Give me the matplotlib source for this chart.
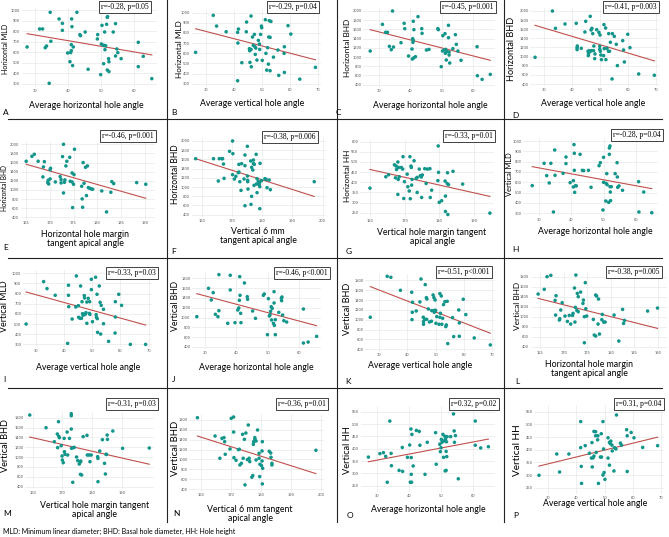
import matplotlib
matplotlib.use('Agg')
import matplotlib.pyplot as plt
from matplotlib.lines import Line2D
from matplotlib import font_manager
import numpy as np

# ---------------- data ----------------
A_x = [27.6,34.6,37.3,38.3,38.3,31.4,32.3,33.1,33.5,34.8,34.3,42.7,41.1,41.2,43.6,43.8,45.2,41.0,41.6,41.0,40.8,39.9,40.6,41.4,46.1,50.3,49.0,48.9,51.1,51.7,51.9,52.0,54.4,53.7,50.1,50.8,51.4,51.2,54.8,55.1,54.4,56.1,52.3,52.4,50.8,51.9,52.4,49.9,61.3,61.3,62.8,65.4]
A_y = [649,978,915,873,807,820,820,642,658,703,304,978,915,842,766,756,791,671,649,614,595,592,509,472,437,854,766,725,791,864,930,937,870,791,677,665,661,623,630,595,563,538,538,509,490,430,415,386,693,462,560,348]
B_x = [26.4,32.7,33.9,37.3,41.4,41.7,41.4,41.5,42.9,44.5,44.6,46.2,45.6,45.7,46.2,45.8,46.3,46.7,47.4,47.0,47.6,47.9,47.7,48.3,48.8,49.2,49.3,49.6,49.9,50.0,50.2,51.3,51.5,51.8,52.1,52.4,52.7,53.3,52.5,53.0,53.0,54.2,55.8,56.1,58.1,58.0,58.1,59.4,60.4,63.6,69.2]
B_y = [609,974,868,812,329,839,806,701,507,812,908,967,645,625,638,510,467,760,786,678,664,651,589,533,727,691,638,786,868,852,530,931,599,434,655,493,921,914,760,757,428,562,632,382,664,599,411,872,789,345,461]
C_x = [27.2,31.1,32.1,32.7,34.3,33.3,33.9,34.6,37.0,38.0,38.2,39.4,40.5,40.7,40.8,40.9,40.9,40.6,41.1,41.6,41.1,42.4,43.6,43.7,45.1,45.9,48.7,48.9,49.8,50.3,51.0,50.2,50.7,51.1,51.2,51.6,52.1,52.1,52.3,52.3,51.4,52.5,53.5,54.3,54.6,55.1,56.1,61.2,61.3,62.8,65.4]
C_y = [1131,1710,1537,1537,2000,1233,1160,1218,1312,1732,1616,1023,1175,1399,1319,1363,1776,957,986,1008,1595,1877,1616,1515,1153,1167,1616,1595,791,1464,1508,1131,1153,1081,1167,1117,1421,1689,1044,1109,936,871,1182,1486,1276,1131,929,1225,595,516,624]
D_x = [26.7,32.9,34.0,37.4,41.4,41.7,41.7,41.8,43.2,44.5,44.8,45.6,45.7,45.8,46.1,46.3,46.4,46.7,47.0,46.9,47.3,47.7,47.6,48.0,48.1,48.7,49.5,49.8,49.9,49.8,50.0,50.2,50.4,51.2,51.3,51.4,51.9,52.0,52.4,52.9,53.0,53.3,53.6,54.2,54.3,55.0,55.7,56.1,58.0,58.3,58.6,59.8,60.6,63.7,69.3]
D_y = [985,2000,1620,1715,1730,1197,1153,1233,1182,1540,1774,1117,1022,1066,1131,1109,1883,1584,1620,1131,1504,1233,1131,956,1058,1591,1533,1226,1474,1160,1117,1036,934,1022,1701,1175,1628,934,1182,1117,1504,1117,1314,511,1504,1445,1270,803,1350,1146,883,1489,1197,620,591]
E_x = [165.1,166.3,166.8,167.6,168.7,168.9,168.6,169.6,169.7,169.8,170.1,170.1,170.2,171.2,172.2,172.4,172.4,172.7,172.9,172.9,173.1,173.2,173.4,173.6,174.2,174.3,174.7,174.7,174.8,175.0,175.1,175.2,176.7,176.8,176.9,177.0,177.2,177.5,177.7,177.9,178.1,178.4,178.7,179.0,180.9,181.9,182.8,183.0,183.4,188.2,190.1]
E_y = [1628,1737,1781,1628,1504,1620,1285,1161,1212,1131,1241,1445,1474,1175,1292,1226,1153,1730,2000,934,1168,1219,1526,1628,1715,1190,1175,1372,613,1124,1336,1891,1080,803,620,1599,1146,1496,876,1526,1051,1036,1022,1015,978,518,949,1182,1139,1161,1124]
F_x = [158.0,163.9,165.5,165.8,166.6,166.9,167.2,167.4,169.2,170.2,170.3,170.2,170.8,171.3,172.1,172.3,172.3,172.6,173.0,173.2,174.0,174.3,174.3,174.3,175.1,175.1,175.2,175.2,175.3,176.2,176.3,176.5,176.5,176.9,177.1,177.1,177.3,177.4,178.0,178.1,178.3,178.3,178.7,179.1,179.0,179.2,179.3,179.2,179.8,180.9,181.3,181.6,182.3,182.7,197.2]
F_y = [1616,1616,1131,1616,1616,1616,1500,1189,1776,2000,1725,1269,1175,1233,1312,1327,1493,1117,928,1508,1175,1696,1464,595,1884,1240,1146,1117,957,1566,624,798,1428,1370,1587,1508,1037,1493,1710,1066,1182,878,1124,1095,1044,1008,1515,530,1138,1182,1167,986,1153,943,1117]
G_x = [159.9,164.5,165.3,167.0,167.5,168.0,167.6,168.2,169.0,169.4,169.5,171.5,171.8,171.9,172.7,167.3,168.1,168.4,169.9,168.0,169.7,170.7,170.9,171.3,171.6,172.0,172.1,173.3,173.6,173.6,174.2,174.5,174.8,175.1,174.9,175.8,176.2,176.6,177.3,177.4,177.8,179.7,179.8,179.6,180.0,180.7,181.7,182.3,182.7,182.4,184.0,181.8,181.8,182.5,186.8,194.7]
G_y = [371,427,437,486,480,500,463,473,473,465,526,526,480,473,506,422,414,427,403,340,320,440,378,357,319,386,414,419,424,350,465,432,426,436,325,467,394,465,467,325,361,579,449,408,301,309,406,394,388,447,454,332,256,241,391,248]
H_x = [27.8,31.5,32.3,33.1,33.6,34.8,34.9,34.4,37.4,38.3,38.3,39.6,40.6,40.8,40.6,40.9,40.9,41.0,41.3,41.5,42.7,43.4,43.8,45.3,46.1,48.6,49.0,50.0,50.0,49.8,50.7,50.8,51.0,51.1,51.6,51.8,51.8,52.0,52.0,52.1,52.2,52.4,53.6,54.2,54.3,54.4,54.8,55.9,60.9,61.0,62.5,65.0]
H_y = [568,784,665,594,784,913,668,313,687,845,781,597,616,965,555,881,716,503,568,565,871,716,713,716,552,761,790,842,600,332,419,590,684,577,406,932,871,952,558,506,423,558,684,790,652,552,565,523,606,313,506,306]
I_x = [26.6,32.8,34.0,36.9,41.3,41.6,41.6,41.7,42.9,44.4,44.2,45.1,45.2,45.7,45.9,46.2,46.4,46.6,46.8,47.2,47.3,47.5,47.8,48.1,48.1,48.6,49.0,49.1,49.2,49.7,49.7,50.1,51.2,51.4,51.5,51.7,51.8,51.9,52.5,52.8,53.0,53.2,54.0,54.0,55.8,58.1,58.2,58.2,59.4,60.4,63.5,68.9]
I_y = [500,918,849,783,309,882,783,671,549,974,668,681,566,556,875,556,720,602,586,780,757,595,612,507,717,753,605,720,595,941,839,523,961,592,566,793,553,418,875,714,401,684,645,503,329,411,569,720,793,684,299,299]
J_x = [27.5,31.2,32.7,32.1,33.4,34.2,34.5,34.5,37.3,38.1,38.1,39.6,40.5,40.8,41.0,41.1,41.2,41.4,41.5,42.6,43.5,43.6,45.2,46.1,48.6,48.9,49.9,50.2,50.5,50.7,50.9,51.1,51.2,51.4,51.8,52.0,52.1,52.0,52.4,52.4,53.5,54.3,54.5,54.4,54.7,55.1,56.0,61.3,61.3,62.8,65.5]
J_y = [1018,1596,1508,1358,1066,1018,1875,1140,882,1562,1861,896,1154,1195,1351,1834,1453,1086,896,1705,1426,1372,1134,984,1453,1480,651,1385,1032,1052,1127,1222,950,1188,882,1297,841,1528,957,651,1106,1392,1419,1344,1052,936,909,1174,481,501,617]
K_x = [26.8,32.8,34.1,37.5,41.5,41.6,41.8,41.7,43.1,44.4,44.8,45.6,45.7,45.7,46.1,46.3,46.7,46.9,46.8,47.4,47.8,48.5,48.6,49.1,49.4,49.4,49.5,49.8,49.8,50.0,50.1,50.4,51.2,51.5,51.5,51.7,52.0,52.2,52.5,52.8,53.3,53.6,53.8,54.1,54.3,56.0,56.4,58.2,58.4,58.4,59.8,60.7,63.7,69.4]
K_y = [1050,1881,1861,1597,1557,1002,1354,1151,1178,1361,1827,1050,962,908,1009,1712,1448,1421,1009,1219,955,969,1185,1502,1448,1185,1151,1401,1192,1185,928,1063,908,1530,1050,1131,1482,908,1029,1307,1367,860,894,1374,516,1043,658,1198,935,664,1415,1104,631,489]
L_x = [164.6,165.9,166.5,167.3,168.4,168.2,168.3,169.1,169.2,169.4,169.7,170.3,170.8,171.2,171.5,171.9,172.0,172.3,172.4,172.5,172.6,172.8,172.9,173.1,173.1,173.6,174.2,174.1,174.4,174.6,174.4,174.7,174.9,176.3,176.5,176.8,176.8,177.0,177.3,177.4,177.6,178.1,178.2,178.5,178.8,180.7,181.7,182.5,182.7,182.9,187.8,189.9]
L_y = [1453,1547,1800,1827,1420,1326,1033,933,960,1133,1280,1013,906,1026,853,1026,1066,1573,893,1186,1833,1126,1466,1400,1100,1493,1333,1266,1000,1680,479,1160,1013,946,633,613,1433,1413,853,1353,653,940,1046,893,893,1033,513,1146,866,926,1113,1173]
M_x = [159.0,164.5,167.3,168.3,168.7,168.4,168.8,169.0,169.6,169.9,170.0,170.3,170.6,170.7,170.9,171.6,171.8,172.4,173.0,173.0,173.0,173.1,173.5,173.7,174.0,174.8,175.2,175.7,176.1,176.1,176.5,176.2,177.0,178.3,178.4,179.0,179.3,179.7,181.9,182.0,182.0,182.6,183.5,184.2,184.5,184.7,184.9,185.1,185.2,187.0,190.3,199.3]
M_y = [1854,1597,1313,1469,1719,1192,1421,1394,1232,1023,942,887,1381,1110,1056,1509,1043,1381,1881,1840,1570,1178,489,1192,1198,1002,928,860,901,651,637,921,1415,1442,1043,1043,908,1043,1009,975,502,1124,1354,874,658,1056,1056,1448,1360,1530,1178,1185]
N_x = [158.7,164.6,166.2,166.9,167.6,167.8,168.0,169.6,170.0,170.8,170.8,170.9,171.6,172.4,172.7,172.9,173.4,173.8,174.0,174.4,174.6,174.9,175.4,175.7,176.0,176.2,176.9,177.2,177.4,177.5,177.9,177.9,178.3,178.3,178.8,179.3,179.3,179.5,179.6,180.1,180.3,180.3,180.4,180.5,180.4,182.7,183.2,183.3,183.6,183.6,198.3]
N_y = [1840,1472,1024,1425,1439,1358,1104,1211,1827,1854,1552,1037,984,1198,1205,890,923,1506,1024,1405,489,1532,997,1693,1024,957,643,676,1305,1358,1405,1439,1372,990,1593,1124,1024,656,903,877,1171,970,1358,823,509,1164,1131,1044,923,890,1185]
O_x = [27.4,31.0,32.1,32.8,33.3,34.1,34.5,34.6,37.0,38.0,38.1,39.6,40.3,40.5,40.9,40.7,40.8,40.8,41.0,41.4,42.4,43.3,43.5,45.1,45.8,48.4,48.6,49.7,49.9,50.1,50.2,50.4,50.7,50.9,51.0,51.3,51.4,51.5,51.7,51.7,51.8,51.9,52.0,53.1,54.2,54.3,54.0,54.6,55.5,60.8,60.8,62.5,64.9]
O_y = [366,380,384,369,264,512,381,331,312,405,308,365,415,264,264,480,364,296,458,330,474,470,414,296,426,465,337,418,388,404,438,426,458,365,431,450,310,438,389,312,428,368,449,449,472,426,541,453,278,512,414,403,408]
P_x = [26.7,33.0,34.0,37.3,41.5,41.5,41.7,41.8,43.1,44.6,45.3,45.5,45.6,45.9,46.2,46.2,46.8,46.8,47.0,47.5,47.6,47.8,48.5,48.8,48.9,49.4,49.4,49.6,49.8,50.1,51.2,51.2,51.7,51.7,52.0,52.2,52.6,52.7,53.3,53.5,54.0,54.2,55.6,56.0,57.8,58.0,58.0,59.4,60.4,63.5,68.8]
P_y = [299,383,312,383,511,408,334,267,416,386,367,428,332,368,375,472,471,455,389,439,455,267,371,463,371,511,300,403,310,283,367,447,429,339,424,434,418,395,316,408,403,537,426,418,479,455,314,468,447,409,416]

# fitted trend lines (slope, intercept)
fit_slope = [-5.34, -7.15, -17.4, -18.3, -29.8, -20.9, -3.82, -5.73,
             -7.71, -17.2, -22.2, -23.7, -13.7, -19.1, 2.45, 2.71]
fit_intercept = [922.5, 1030.5, 2068, 2175, 6482, 4918, 1074, 911,
                 1021, 1960, 2267, 5267, 3586, 4503, 280, 263]

stats_text = ["r=-0.28, p=0.05", "r=-0.29, p=0.04", "r=-0.45, p=0.001", "r=-0.41, p=0.003",
              "r=-0.46, p=0.001", "r=-0.38, p=0.006", "r=-0.33, p=0.01", "r=-0.28, p=0.04",
              "r=-0.33, p=0.03", "r=-0.46, p<0.001", "r=-0.51, p<0.001", "r=-0.38, p=0.005",
              "r=-0.31, p=0.03", "r=-0.36, p=0.01", "r=0.32, p=0.02", "r=0.31, p=0.04"]
letters = list("ABCDEFGHIJKLMNOP")
x_labels = ["Average horizontal hole angle", "Average vertical hole angle",
            "Average horizontal hole angle", "Average vertical hole angle",
            "Horizontal hole margin\ntangent apical angle", "Vertical 6 mm\ntangent apical angle",
            "Vertical hole margin tangent\napical angle", "Average horizontal hole angle",
            "Average vertical hole angle", "Average horizontal hole angle",
            "Average vertical hole angle", "Horizontal hole margin\ntangent apical angle",
            "Vertical hole margin tangent\napical angle", "Vertical 6 mm tangent\napical angle",
            "Average horizontal hole angle", "Average vertical hole angle"]
y_labels = ["Horizontal MLD", "Horizontal MLD", "Horizontal BHD", "Horizontal BHD",
            "Horizontal BHD", "Horizontal BHD", "Horizontal HH", "Vertical MLD",
            "Vertical MLD", "Vertical BHD", "Vertical BHD", "Vertical BHD",
            "Vertical BHD", "Vertical BHD", "Vertical HH", "Vertical HH"]
ang_h = [30, 40, 50, 60]
ang_v = [30, 40, 50, 60, 70]
tan_h = [165, 170, 175, 180, 185, 190]
tan_v4 = [160, 170, 180, 190]
tan_v5 = [160, 170, 180, 190, 200]
mld_t = [300, 400, 500, 600, 700, 800, 900, 1000]
bhd_h_t = [400, 600, 800, 1000, 1200, 1400, 1600, 1800, 2000]
bhd_v_t = [400, 600, 800, 1000, 1200, 1400, 1600, 1800]
hh_h_t = [250, 300, 350, 400, 450, 500, 550, 600]
hh_v_t = [250, 300, 350, 400, 450, 500, 550]
footnote = "MLD: Minimum linear diameter; BHD: Basal hole diameter, HH: Hole height"

xs = [A_x, B_x, C_x, D_x, E_x, F_x, G_x, H_x, I_x, J_x, K_x, L_x, M_x, N_x, O_x, P_x]
ys = [A_y, B_y, C_y, D_y, E_y, F_y, G_y, H_y, I_y, J_y, K_y, L_y, M_y, N_y, O_y, P_y]
xticks_all = [ang_h, ang_v, ang_h, ang_v, tan_h, tan_v5, tan_v4, ang_h,
              ang_v, ang_h, ang_v, tan_h, tan_v4, tan_v5, ang_h, ang_v]
yticks_all = [mld_t, mld_t, bhd_h_t, bhd_h_t, bhd_h_t, bhd_h_t, hh_h_t, mld_t,
              mld_t, bhd_v_t, bhd_v_t, bhd_v_t, bhd_v_t, bhd_v_t, hh_v_t, hh_v_t]

# ---------------- layout (pixels) ----------------
W, H = 669, 537
fig = plt.figure(figsize=(W / 100, H / 100), dpi=100)
fig.patch.set_facecolor('white')
renderer = fig.canvas.get_renderer()

# tick -> pixel anchors (x: t1,p1,t2,p2 ; y: v1,q1,v2,q2)
xmap = [(30,35.0,60,134.0),(30,205.7,70,317.7),(30,379.0,60,473.3),(30,544.3,70,656.3),
        (165,25.7,190,145.3),(160,201.7,200,322.7),(160,370.3,190,473.7),(30,539.3,60,635.7),
        (30,35.7,70,148.7),(30,204.7,60,299.3),(30,379.3,70,492.0),(165,540.0,190,658.0),
        (160,32.7,190,121.7),(160,201.3,200,321.0),(30,376.7,60,472.7),(30,548.3,70,661.0)]
ymap = [(1000,10.0,300,83.7),(1000,12.7,300,83.7),(2000,11.0,400,84.7),(2000,11.0,400,84.0),
        (2000,144.3,400,217.3),(2000,141.0,400,214.7),(600,141.7,250,212.7),(1000,141.0,300,213.3),
        (1000,273.3,300,344.3),(1800,278.3,400,347.0),(1800,280.3,400,349.3),(1800,276.7,400,346.7),
        (1800,417.7,400,486.7),(1800,419.7,400,489.3),(550,411.7,250,485.7),(550,411.7,250,487.7)]
xlims = [(26,67),(25,71),(25,67),(25,71),(164,192),(156.7,201),(157,196),(25,67),
         (25.5,71),(26,67),(25,71),(163,192),(157.5,201),(156,201),(25,67),(25,71)]
ylims = [(270,1030),(270,1030),(350,2060),(350,2060),(350,2060),(350,2060),(225,610),(270,1030),
         (270,1030),(350,1920),(350,1920),(350,1920),(350,1920),(350,1920),(225,575),(225,575)]
ylab_x = [6,180,348,512,5,176,348,510,5,176,348,517,6,175,348,517]
ylab_cy = [49,49,48,49,188,174,176,174,306,306,309,306,445,448,450,450]
ylab_len = [51,58,58,64,46,60,52,44,52,50,52,48,53,55,48,52]
xlab_pos = [(86,105),(252,104),(430,105),(593,103),(85,239),(258,236),(432,237),(595,231),
            (88,367),(256,367),(420,366),(589,369),(95,510),(250,514),(428,509),(595,504)]
let_pos = [(3,113),(171,113),(336,113),(512,115),(3,248),(171,251),(346,251),(512,249),
           (3,379),(172,379),(345,381),(515,381),(3,513),(173,513),(347,515),(513,515)]
box_pos = [(125,7),(293,7),(468,7),(631,7),(128,136),(290,137),(469,136),(637,135),
           (132,273),(302,273),(464,272),(634,272),(132,404),(302,404),(474,404),(639,404)]

SANS = ['Lato', 'DejaVu Sans']
SERIF = ['Liberation Serif', 'DejaVu Serif']
try:
    font_manager.findfont(font_manager.FontProperties(family='Liberation Sans Narrow'),
                          fallback_to_default=False)
    NARROW = ['Liberation Sans Narrow', 'Lato', 'DejaVu Sans']
except Exception:
    NARROW = SANS
DOT = '#12958a'
LINE = '#c0504d'

def fx(px):
    return px / W

def fy(py):
    return 1 - py / H

for i in range(16):
    t1, p1, t2, p2 = xmap[i]
    v1, q1, v2, q2 = ymap[i]
    sx = (p2 - p1) / (t2 - t1)
    sy = (q2 - q1) / (v2 - v1)
    x0, x1 = xlims[i]
    y0, y1 = ylims[i]
    left = p1 + (x0 - t1) * sx
    right = p1 + (x1 - t1) * sx
    top = q1 + (y1 - v1) * sy
    bottom = q1 + (y0 - v1) * sy
    ax = fig.add_axes([fx(left), fy(bottom), (right - left) / W, (bottom - top) / H])
    ax.set_xlim(x0, x1)
    ax.set_ylim(y0, y1)
    for s in ax.spines.values():
        s.set_visible(False)
    ax.set_xticks(xticks_all[i])
    ax.set_yticks(yticks_all[i])
    ax.tick_params(length=0, labelsize=2.6, labelcolor='#555555', pad=1.2)
    ax.grid(True, color='#e6e6e6', lw=0.45)
    ax.set_axisbelow(True)
    xd = np.array(xs[i])
    yd = np.array(ys[i])
    ax.scatter(xd, yd, s=6.5, color=DOT, edgecolors='none', zorder=3)
    xl = np.array([xd.min(), xd.max()])
    ax.plot(xl, fit_slope[i] * xl + fit_intercept[i], color=LINE, lw=0.8, zorder=2)
    # y label, size fitted to the reference length
    yt = fig.text(fx(ylab_x[i]), fy(ylab_cy[i]), y_labels[i], rotation=90, ha='center',
                  va='center', fontsize=6.0, family=NARROW)
    ext = yt.get_window_extent(renderer)
    yt.set_fontsize(6.0 * ylab_len[i] / ext.height)
    lx, ly = xlab_pos[i]
    fig.text(fx(lx), fy(ly), x_labels[i], ha='center', va='center', fontsize=6.3,
             family=SANS, linespacing=1.05)
    tx, ty = let_pos[i]
    fig.text(fx(tx), fy(ty), letters[i], ha='left', va='center', fontsize=6.0, family=SANS)
    bx, by = box_pos[i]
    fig.text(fx(bx), fy(by), stats_text[i], ha='center', va='center', fontsize=5.5,
             family=SERIF,
             bbox=dict(boxstyle='square,pad=0.3', facecolor='white', edgecolor='#222222', lw=0.6))

# separators
for xv in (167, 337, 504):
    fig.add_artist(Line2D([fx(xv), fx(xv)], [fy(0), fy(522)], transform=fig.transFigure,
                          color='#222222', lw=0.8))
for yv in (119, 258, 388):
    fig.add_artist(Line2D([fx(8), fx(662)], [fy(yv), fy(yv)], transform=fig.transFigure,
                          color='#222222', lw=0.8))

fig.text(fx(3), fy(531), footnote, ha='left', va='center', fontsize=5.0, family=SANS)

fig.savefig('out.png', dpi=100, facecolor='white')
